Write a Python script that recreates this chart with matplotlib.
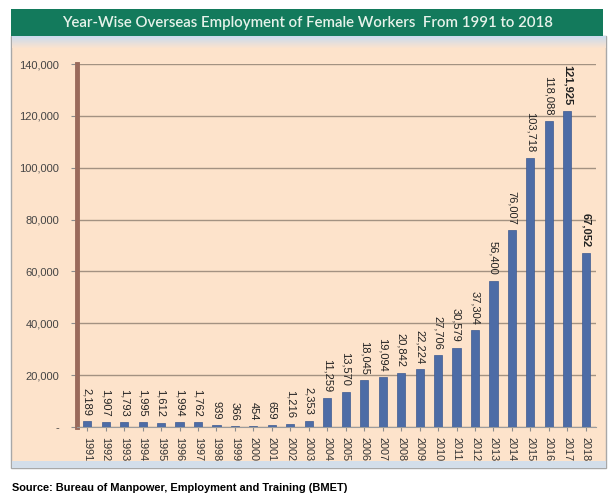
import numpy as np
import matplotlib
matplotlib.use('Agg')
import matplotlib.pyplot as plt
from matplotlib.patches import Rectangle
from matplotlib.ticker import FuncFormatter

years = list(range(1991, 2019))
workers = [2189, 1907, 1793, 1995, 1612, 1994, 1762, 939, 366, 454, 659, 1216,
           2353, 11259, 13570, 18045, 19094, 20842, 22224, 27706, 30579, 37304,
           56400, 76007, 103718, 118088, 121925, 67052]
bold_years = [2017, 2018]

title = 'Year-Wise Overseas Employment of Female Workers  From 1991 to 2018'
source = 'Source: Bureau of Manpower, Employment and Training (BMET)'

plt.rcParams['font.family'] = 'Liberation Sans'

W, H = 614, 500
fig = plt.figure(figsize=(W / 100, H / 100), dpi=100)
fig.patch.set_facecolor('white')


def box(x0, y0, x1, y1, **kw):
    # pixel coords from the top-left corner
    r = Rectangle((x0 / W, 1 - y1 / H), (x1 - x0) / W, (y1 - y0) / H,
                  transform=fig.transFigure, **kw)
    fig.add_artist(r)
    return r


beige = '#FDE3CB'
# outer panel
box(11, 36, 606, 468, facecolor=beige, edgecolor='#A8A8A8', lw=1.0, zorder=0)
# light blue strips top and bottom
for i in range(12):
    c = np.array([0.80, 0.86, 0.93]) * (1 - i / 12) + np.array([0.992, 0.89, 0.80]) * (i / 12)
    box(11.5, 36 + i, 605.5, 37 + i, facecolor=c, edgecolor='none', zorder=0.5)
box(11.5, 461, 605.5, 467.5, facecolor='#D3DEEA', edgecolor='none', zorder=0.5)
# title banner
box(11, 9, 603, 36, facecolor='#137A5C', edgecolor='none', zorder=1)
fig.text(308 / W, 1 - 22.5 / H, title, ha='center', va='center',
         color='#E6F2EA', fontsize=10.8, family='Lato', fontweight='semibold')

# plot area
ax = fig.add_axes([77 / W, 1 - 427 / H, 519 / W, 363 / H])
ax.set_zorder(2)
ax.set_facecolor(beige)
x = np.arange(len(years))
ax.bar(x, workers, width=0.44, color='#4D6CA6', edgecolor='#3E5A90', lw=0.5, zorder=3)

for xi, yr, v in zip(x, years, workers):
    ax.annotate(f'{v:,}', (xi, v), xytext=(0, 4), textcoords='offset points',
                ha='center', va='bottom', rotation=-90, fontsize=8,
                color='#222222', fontweight='bold' if yr in bold_years else 'normal')

ax.set_xlim(-0.55, len(years) - 0.45)
ax.set_ylim(0, 140000)
ax.set_yticks(range(0, 140001, 20000))
ax.yaxis.set_major_formatter(FuncFormatter(lambda v, p: '-' if v == 0 else f'{int(v):,}'))
ax.set_xticks(x)
ax.set_xticklabels(years, rotation=-90, fontsize=7.8, color='#333333')
ax.tick_params(axis='y', labelsize=8, colors='#444444', length=4, color='#8C8C8C', pad=9)
ax.tick_params(axis='x', length=3, color='#8C8C8C', pad=4)
ax.yaxis.grid(True, color='#A39282', lw=1.0, zorder=1)
ax.set_axisbelow(True)

for s in ['top', 'right']:
    ax.spines[s].set_visible(False)
ax.spines['bottom'].set_color('#9C9C9C')
ax.spines['left'].set_color('#9A6A5B')
ax.spines['left'].set_linewidth(3.5)

fig.text(12 / W, 1 - 488 / H, source, ha='left', va='center',
         fontsize=7.9, fontweight='bold', color='black')

fig.savefig('out.png', dpi=100, facecolor=fig.get_facecolor())
